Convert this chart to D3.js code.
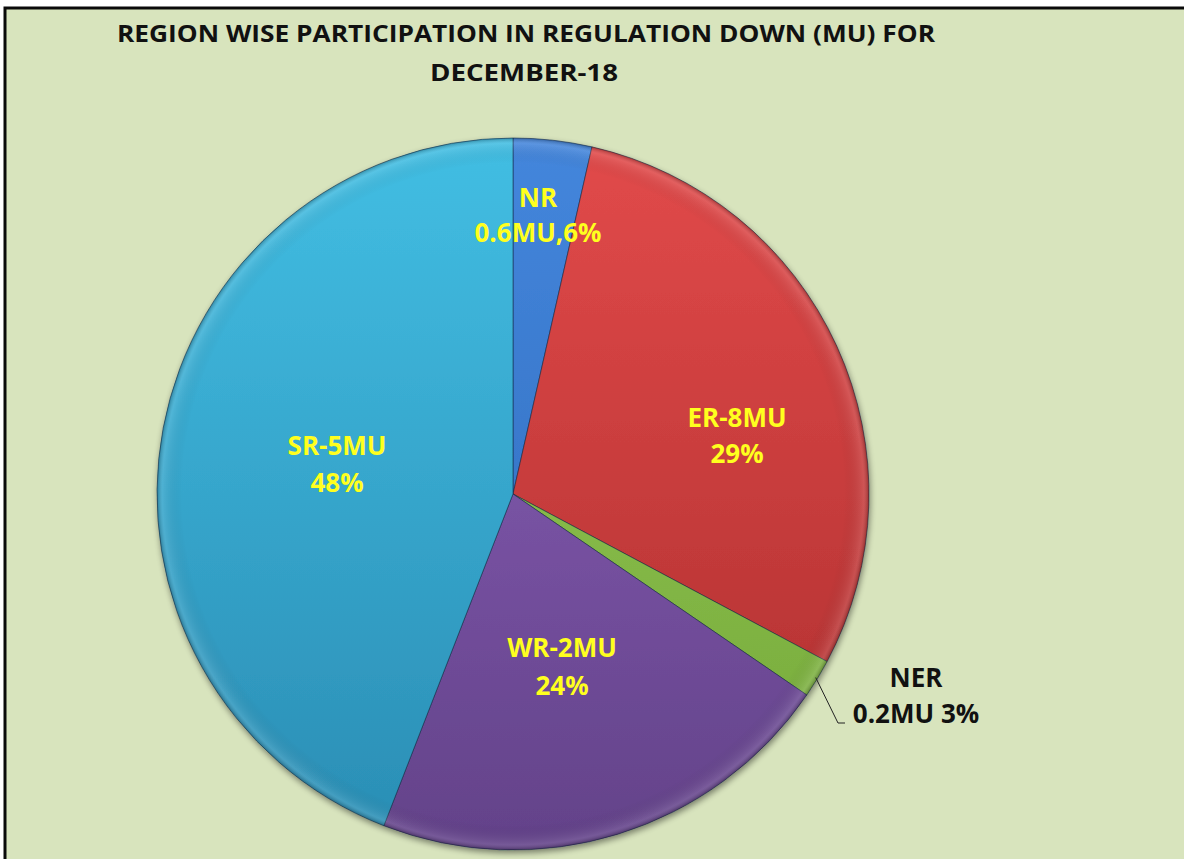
<!DOCTYPE html>
<html><head><meta charset="utf-8">
<script src="https://cdn.jsdelivr.net/npm/d3@7"></script>
<style>html,body{margin:0;padding:0;background:#fff;}svg{display:block;}</style>
</head><body>
<svg id="chart" width="1184" height="859"></svg>
<script>
// ---- data ----
const regions = ["NR", "ER", "NER", "WR", "SR"];
const shares = [3.56, 29.24, 1.75, 21.36, 44.09];           // slice sizes (%)
const labelLine1 = ["NR", "ER-8MU", "NER", "WR-2MU", "SR-5MU"];
const labelLine2 = ["0.6MU,6%", "29%", "0.2MU 3%", "24%", "48%"];
const titleLines = ["REGION WISE PARTICIPATION IN REGULATION DOWN (MU) FOR", "DECEMBER-18"];

// ---- styles / layout ----
const colorsTop = ["#4486dc", "#e24a4a", "#98cc56", "#8d63bd", "#42bee3"];
const colorsBot = ["#2c68b8", "#ac2e2e", "#74a83a", "#634289", "#2a8db4"];
const labelFill = ["#ffff1e", "#ffff1e", "#111111", "#ffff1e", "#ffff1e"];
const labelOffset = [[25, -287], [224, -67], [403, 193], [49, 163], [-176, -39]];
const labelGap = [35, 36, 36, 38, 37];

const W = 1184, H = 859, cx = 513, cy = 494, R = 356;
const svg = d3.select("#chart");
const defs = svg.append("defs");

// background and frame
svg.append("rect").attr("x", 0).attr("y", 0).attr("width", W).attr("height", H).attr("fill", "#ffffff");
svg.append("rect").attr("x", 5).attr("y", 8).attr("width", W + 20).attr("height", H + 20)
  .attr("fill", "#d8e4bd").attr("stroke", "#0a0a0a").attr("stroke-width", 3);

// title
const title = svg.append("g").attr("font-family", "'Open Sans', sans-serif").attr("font-weight", 700)
  .attr("font-size", 24).attr("fill", "#111");
title.append("text").attr("x", 117).attr("y", 42).attr("textLength", 818).attr("lengthAdjust", "spacingAndGlyphs").text(titleLines[0]);
title.append("text").attr("x", 430).attr("y", 81).attr("textLength", 188).attr("lengthAdjust", "spacingAndGlyphs").text(titleLines[1]);

// gradients (coordinates relative to the pie centre)
regions.forEach((r, i) => {
  const g = defs.append("linearGradient").attr("id", "g" + i)
    .attr("gradientUnits", "userSpaceOnUse").attr("x1", 0).attr("y1", -R).attr("x2", 0).attr("y2", R);
  g.append("stop").attr("offset", "0%").attr("stop-color", colorsTop[i]);
  g.append("stop").attr("offset", "100%").attr("stop-color", colorsBot[i]);
});
const rimG = defs.append("radialGradient").attr("id", "rim").attr("gradientUnits", "userSpaceOnUse")
  .attr("cx", 0).attr("cy", 0).attr("r", R);
rimG.append("stop").attr("offset", "0.93").attr("stop-color", "#000").attr("stop-opacity", 0);
rimG.append("stop").attr("offset", "0.985").attr("stop-color", "#fff").attr("stop-opacity", 0.12);
rimG.append("stop").attr("offset", "1").attr("stop-color", "#000").attr("stop-opacity", 0.25);
const sh = defs.append("filter").attr("id", "shadow").attr("x", "-10%").attr("y", "-10%").attr("width", "120%").attr("height", "120%");
sh.append("feGaussianBlur").attr("in", "SourceAlpha").attr("stdDeviation", 3).attr("result", "b");
sh.append("feOffset").attr("in", "b").attr("dx", 1).attr("dy", 3).attr("result", "o");
sh.append("feComponentTransfer").attr("in", "o").attr("result", "o2")
  .append("feFuncA").attr("type", "linear").attr("slope", 0.45);
const m = sh.append("feMerge");
m.append("feMergeNode").attr("in", "o2");
m.append("feMergeNode").attr("in", "SourceGraphic");

const pie = d3.pie().sort(null).value(d => d)(shares);
const arc = d3.arc().innerRadius(0).outerRadius(R);
const pg = svg.append("g").attr("transform", `translate(${cx},${cy})`);
const slices = pg.append("g").attr("filter", "url(#shadow)");
slices.selectAll("path").data(pie).join("path")
  .attr("d", arc)
  .attr("fill", (d, i) => `url(#g${i})`)
  .attr("stroke", "rgba(20,40,70,0.55)").attr("stroke-width", 1);
pg.append("circle").attr("r", R).attr("fill", "url(#rim)").attr("pointer-events", "none");

// leader line for NER
const ner = pie[2];
const nerMid = (ner.startAngle + ner.endAngle) / 2;
const p0 = [Math.sin(nerMid) * (R - 2), -Math.cos(nerMid) * (R - 2)];
const off = labelOffset[2];
pg.append("polyline")
  .attr("points", [p0, [off[0] - 78, off[1] + 36], [off[0] - 71, off[1] + 36]].map(p => p.join(",")).join(" "))
  .attr("fill", "none").attr("stroke", "#222").attr("stroke-width", 1);

// labels
const lab = pg.append("g").attr("font-family", "'Open Sans', sans-serif").attr("font-weight", 700)
  .attr("font-size", 26).attr("text-anchor", "middle");
regions.forEach((r, i) => {
  const [dx, dy] = labelOffset[i];
  const t = lab.append("text").attr("fill", labelFill[i]);
  t.append("tspan").attr("x", dx).attr("y", dy).text(labelLine1[i]);
  t.append("tspan").attr("x", dx).attr("y", dy + labelGap[i]).text(labelLine2[i]);
});
</script>
</body></html>
